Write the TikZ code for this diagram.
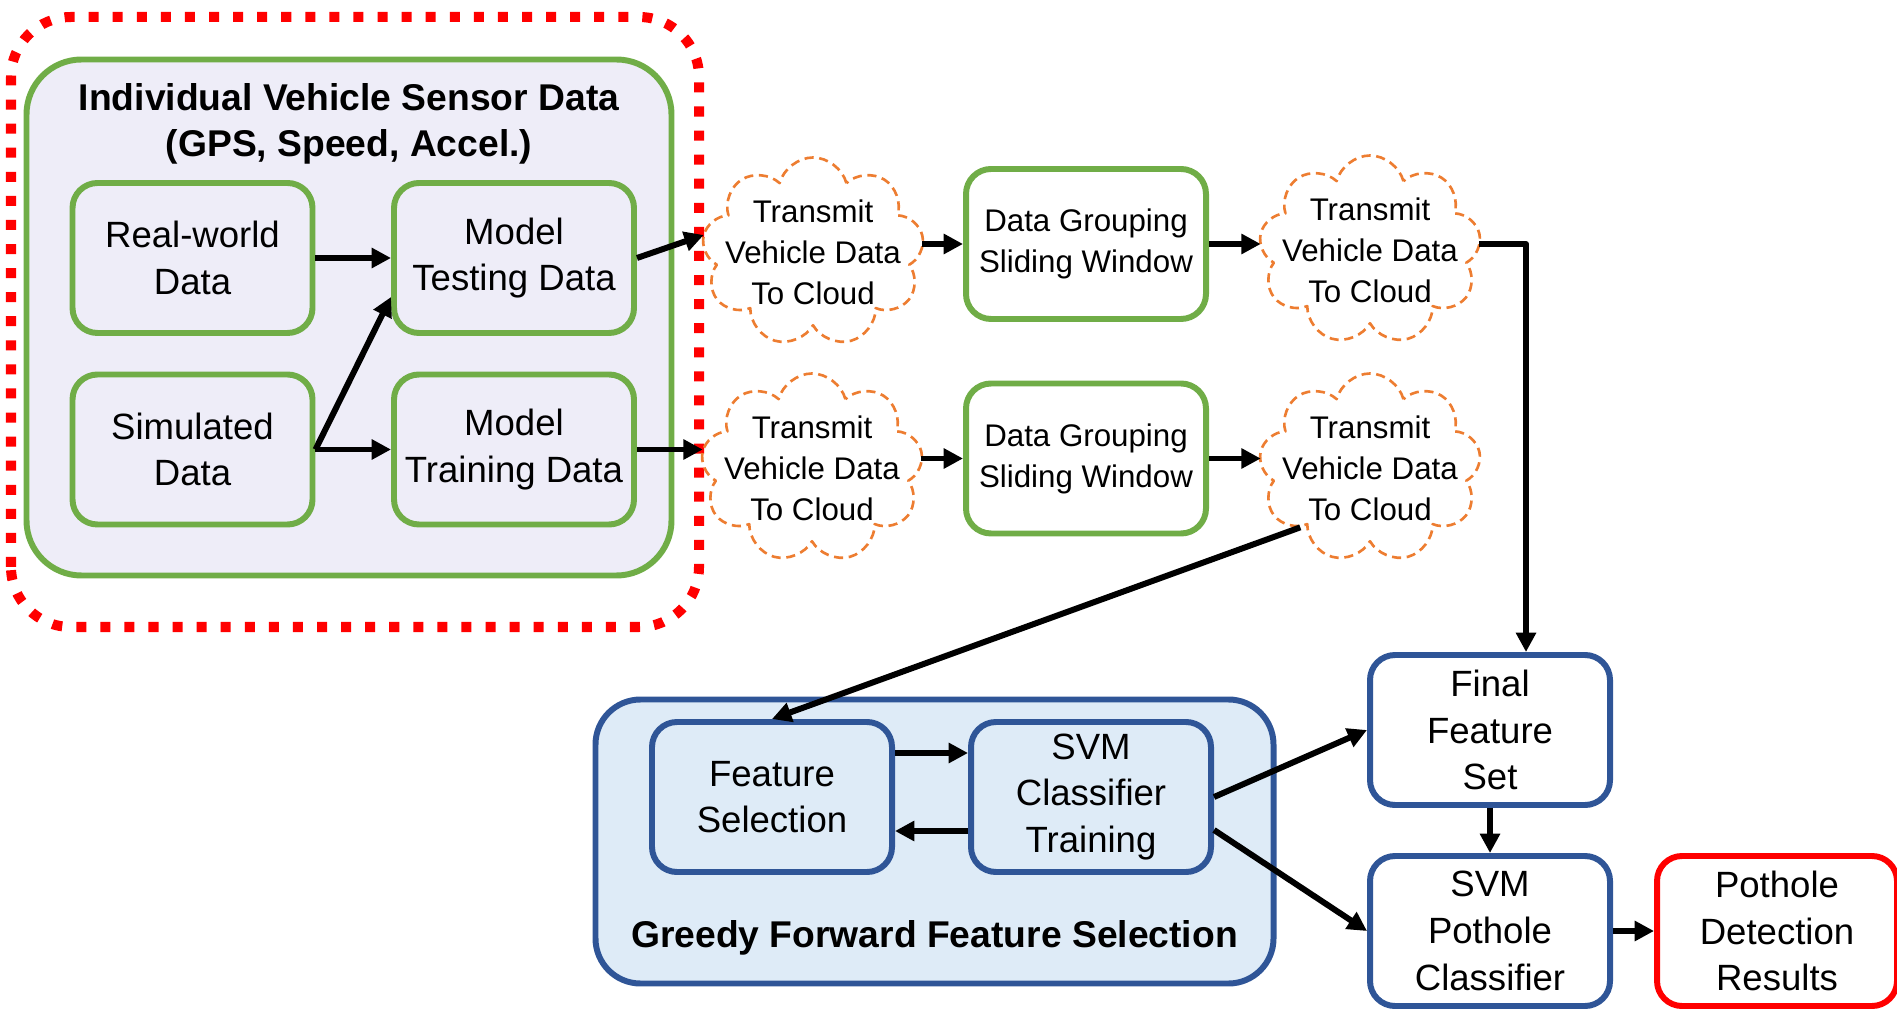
\documentclass[tikz,border=0pt]{standalone}
\usepackage{fontspec}
\setmainfont{Liberation Sans}
\usetikzlibrary{arrows.meta,shapes.symbols}

\definecolor{boxgreen}{HTML}{70AD47}
\definecolor{lavfill}{HTML}{EEEDF8}
\definecolor{boxblue}{HTML}{2F5597}
\definecolor{paleblue}{HTML}{DEEBF7}
\definecolor{cloudorange}{HTML}{ED7D31}

\begin{document}
\begin{tikzpicture}[line join=round,
    gbox/.style={draw=boxgreen, line width=1.7pt, rounded corners=.25cm,
      minimum width=2.40cm, minimum height=1.50cm, inner sep=0pt,
      align=center, font=\fontsize{10.4}{13.3}\selectfont},
    bbox/.style={gbox, draw=boxblue},
    dgbox/.style={gbox, fill=white, font=\fontsize{8.9}{11.7}\selectfont},
    cloudbox/.style={cloud, cloud puffs=9, cloud puff arc=150, cloud ignores aspect,
      draw=cloudorange, line width=.75pt, dash pattern=on 2.6pt off 1.6pt,
      minimum width=2.22cm, minimum height=1.89cm, inner sep=0pt},
    cloudtext/.style={align=center, font=\fontsize{8.9}{11.7}\selectfont},
    grouptitle/.style={align=center, font=\fontsize{10.6}{13.3}\selectfont\bfseries},
    arr/.style={-{Triangle[length=5.5pt,width=5.5pt]}, line width=1.7pt}]
  \useasboundingbox (0,0) rectangle (18.97,10.10);

  % sensor data group
  \draw[red, line width=2.85pt, dash pattern=on 2.85pt off 4pt, rounded corners=.6cm]
    (0.11,3.83) rectangle (6.99,9.93);
  \draw[boxgreen, fill=lavfill, line width=1.7pt, rounded corners=.55cm]
    (0.265,4.345) rectangle (6.715,9.505);
  \node[grouptitle] (sensortitle) at (3.49,8.86)
    {Individual Vehicle Sensor Data\\(GPS, Speed, Accel.)};
  \node[gbox, fill=lavfill] (realw) at (1.925,7.52) {Real-world\\Data};
  \node[gbox, fill=lavfill] (mtest) at (5.14,7.52) {Model\\Testing Data};
  \node[gbox, fill=lavfill] (simd) at (1.925,5.605) {Simulated\\Data};
  \node[gbox, fill=lavfill] (mtrain) at (5.14,5.605) {Model\\Training Data};

  % transmission and grouping
  \node[cloudbox, label={[cloudtext]center:{Transmit\\Vehicle Data\\To Cloud}}]
    (sendtest) at (8.13,7.58) {};
  \node[cloudbox, label={[cloudtext]center:{Transmit\\Vehicle Data\\To Cloud}}]
    (sendtrain) at (8.12,5.42) {};
  \node[dgbox] (dgup) at (10.86,7.66) {Data Grouping\\Sliding Window};
  \node[dgbox] (dglow) at (10.86,5.515) {Data Grouping\\Sliding Window};
  \node[cloudbox, label={[cloudtext]center:{Transmit\\Vehicle Data\\To Cloud}}]
    (sendtest2) at (13.70,7.60) {};
  \node[cloudbox, label={[cloudtext]center:{Transmit\\Vehicle Data\\To Cloud}}]
    (sendtrain2) at (13.70,5.42) {};

  % feature selection group
  \draw[boxblue, fill=paleblue, line width=1.7pt, rounded corners=.45cm]
    (5.955,0.265) rectangle (12.735,3.105);
  \node[grouptitle] (greedytitle) at (9.345,0.72) {Greedy Forward Feature Selection};
  \node[bbox, fill=paleblue] (fsel) at (7.72,2.13) {Feature\\Selection};
  \node[bbox, fill=paleblue] (svmt) at (10.91,2.13) {SVM\\Classifier\\Training};

  % classification
  \node[bbox, fill=white] (final) at (14.90,2.80) {Final\\Feature\\Set};
  \node[bbox, fill=white] (svmp) at (14.90,0.79) {SVM\\Pothole\\Classifier};
  \node[gbox, draw=red, fill=white] (pdr) at (17.77,0.79) {Pothole\\Detection\\Results};

  \draw[arr] (realw) -- (mtest);
  \draw[arr] (simd.east) -- ([yshift=.39cm]mtest.south west);
  \draw[arr] (simd) -- (mtrain);
  \draw[arr] (mtest.east) -- ([yshift=.17cm]sendtest.west);
  \draw[arr] (mtrain.east) -- (mtrain.east -| sendtrain.west);
  \draw[arr] (dgup.west -| sendtest.east) -- (dgup.west);
  \draw[arr] (dglow.west -| sendtrain.east) -- (dglow.west);
  \draw[arr] (dgup.east) -- (dgup.east -| sendtest2.west);
  \draw[arr] (dglow.east) -- (dglow.east -| sendtrain2.west);
  \draw[arr] (dgup.east -| sendtest2.east) -| ([xshift=.36cm]final.north);
  \draw[arr] (sendtrain2.south west) -- (fsel.north);
  \draw[arr] ([yshift=.44cm]fsel.east) -- ([yshift=.44cm]fsel.east -| svmt.west);
  \draw[arr] ([yshift=-.34cm]svmt.west) -- ([yshift=-.34cm]svmt.west -| fsel.east);
  \draw[arr] (svmt.east) -- (final.west);
  \draw[arr] ([yshift=-.33cm]svmt.east) -- (svmp.west);
  \draw[arr] (final) -- (svmp);
  \draw[arr] (svmp) -- (pdr);
\end{tikzpicture}
\end{document}
